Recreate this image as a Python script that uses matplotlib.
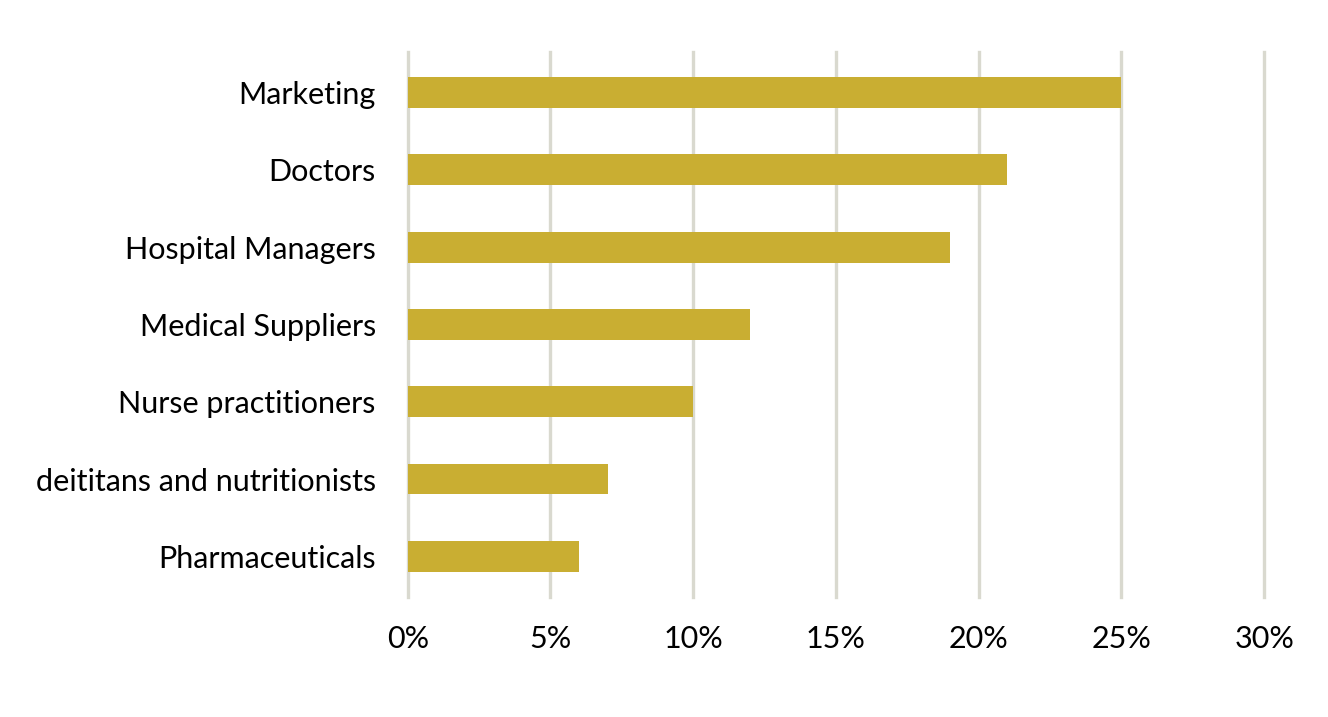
import matplotlib
matplotlib.use("Agg")
import matplotlib.pyplot as plt
from matplotlib.ticker import FuncFormatter

categories = ["Marketing", "Doctors", "Hospital Managers", "Medical Suppliers",
              "Nurse practitioners", "deititans and nutritionists", "Pharmaceuticals"]
shares = [25, 21, 19, 12, 10, 7, 6]
xticks = [0, 5, 10, 15, 20, 25, 30]

plt.rcParams['font.family'] = ['Lato', 'DejaVu Sans']

fig = plt.figure(figsize=(13.28, 7.17), dpi=100)
ax = fig.add_axes([0.307, 0.167, 0.645, 0.760])

ypos = list(range(len(categories)))
ax.barh(ypos, shares, height=0.40, color="#C9AE32", zorder=3)

ax.set_xlim(0, 30)
ax.set_ylim(len(categories) - 0.47, -0.52)
ax.set_yticks(ypos)
ax.set_yticklabels(categories)
ax.set_xticks(xticks)
ax.xaxis.set_major_formatter(FuncFormatter(lambda v, p: f"{v:.0f}%"))

ax.grid(axis='x', color="#D9D9CF", linewidth=2.4, zorder=0)
ax.grid(axis='y', visible=False)
for gl in ax.get_xgridlines():
    gl.set_clip_on(False)
for s in ax.spines.values():
    s.set_visible(False)
ax.tick_params(axis='both', length=0, labelsize=22, colors="#000000")
ax.tick_params(axis='y', pad=23)
ax.tick_params(axis='x', pad=20)

fig.savefig("out.png", dpi=100, facecolor="white")
